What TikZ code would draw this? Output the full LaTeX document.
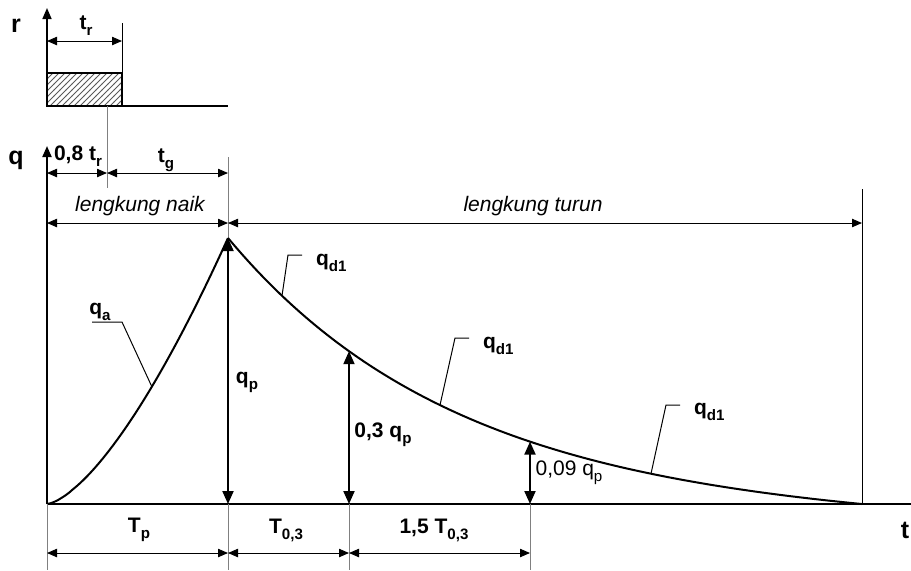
\documentclass[tikz,border=0pt]{standalone}
\usepackage{fontspec}
\setmainfont{Liberation Sans}
\usetikzlibrary{arrows.meta,patterns}
\newcommand{\lowidx}[1]{\raisebox{-0.55ex}{\scalebox{0.72}{#1}}}

\tikzset{
  axislbl/.style={font=\fontsize{12.5}{14}\selectfont\bfseries},
  dimlbl/.style={font=\fontsize{10.5}{12}\selectfont\bfseries},
  thinlbl/.style={font=\fontsize{10.5}{12}\selectfont},
  curvelbl/.style={font=\fontsize{10.5}{12}\selectfont\itshape},
  dimline/.style={line width=0.5pt, {Triangle[length=5pt,width=4.2pt]}-{Triangle[length=5pt,width=4.2pt]}},
  bigarrow/.style={line width=1pt, {Triangle[length=6.5pt,width=5.5pt]}-{Triangle[length=6.5pt,width=5.5pt]}},
  extline/.style={line width=0.5pt, gray},
  leader/.style={line width=0.5pt},
  hydro/.style={line width=1pt},
}

\begin{document}
\begin{tikzpicture}[x=0.5pt, y=-0.5pt]
        \useasboundingbox (0,0) rectangle (911,570);
        % rainfall block
        \draw[pattern=north east lines, pattern color=black!65, line width=1pt] (47,73) rectangle (122,106);
        \draw[hydro] (47,106) -- (228,106);
        \draw[line width=0.8pt, -{Triangle[length=5.5pt,width=4.5pt]}] (47,106) -- (47,8);
        \draw[extline, black] (122,23) -- (122,106);
        \draw[extline] (107,106) -- (107,188);
        \draw[dimline] (47,41) -- (122,41);
        % axes
        \draw[hydro, -{Triangle[length=5.5pt,width=4.5pt]}] (47,504) -- (47,146);
        \draw[hydro] (47,504) -- (911,504);
        \node[axislbl] (rlab) at (16,26) {r};
        \node[axislbl] (qlab) at (16,160) {q};
        \node[axislbl] (tlab) at (905,530) {t};
        % top dimensions
        \draw[extline] (228,157) -- (228,238);
        \draw[extline, black] (862,189) -- (862,504);
        \draw[dimline] (47,173) -- (107,173);
        \draw[dimline] (107,173) -- (228,173);
        \draw[dimline] (47,223) -- (228,223);
        \draw[dimline] (228,223) -- (862,223);
        \node[dimlbl] (trlab) at (86,26) {t\lowidx{r}};
        \node[dimlbl] (tr8lab) at (78,156) {0,8 t\lowidx{r}};
        \node[dimlbl] (tglab) at (166,160) {t\lowidx{g}};
        \node[curvelbl] (naiklab) at (140,206) {lengkung naik};
        \node[curvelbl] (turunlab) at (533,206) {lengkung turun};
        % hydrograph
        \draw[hydro, domain=0:1, samples=50] plot ({47+181*\x}, {504-266*(\x)^1.5});
        \draw[hydro, domain=0:1, samples=90] plot ({228+634*\x}, {504-266*(exp(-2.8*\x)-\x*exp(-2.8))});
        \draw[bigarrow] (228,238) -- (228,504);
        \draw[bigarrow] (349,351.2) -- (349,504);
        \draw[bigarrow] (530,441.6) -- (530,504);
        \node[dimlbl] (qplab) at (247,382) {q\lowidx{p}};
        \node[dimlbl] (q03lab) at (383,435) {0,3 q\lowidx{p}};
        \node[thinlbl] (q009lab) at (569,473) {0,09 q\lowidx{p}};
        % curve labels
        \draw[leader] (92,322) -- (122,322) -- (152,387);
        \node[dimlbl] (qalab) at (100,312) {q\lowidx{a}};
        \draw[leader] (302,255) -- (288,255) -- (282,295.8);
        \node[dimlbl, anchor=west] (qd1a) at (309,263) {q\lowidx{d1}};
        \draw[leader] (469,338) -- (455,338) -- (440,405.1);
        \node[dimlbl, anchor=west] (qd1b) at (476,346) {q\lowidx{d1}};
        \draw[leader] (680,405) -- (666,405) -- (651,473.7);
        \node[dimlbl, anchor=west] (qd1c) at (687,412) {q\lowidx{d1}};
        % bottom dimensions
        \foreach \xa in {47,228,349,530}
          \draw[extline] (\xa,504) -- (\xa,570);
        \draw[dimline] (47,553) -- (228,553);
        \draw[dimline] (228,553) -- (349,553);
        \draw[dimline] (349,553) -- (530,553);
        \node[dimlbl] (Tplab) at (139,530) {T\lowidx{p}};
        \node[dimlbl] (T03lab) at (286,530) {T\lowidx{0,3}};
        \node[dimlbl] (T15lab) at (434,530) {1,5 T\lowidx{0,3}};
      \end{tikzpicture}
\end{document}
